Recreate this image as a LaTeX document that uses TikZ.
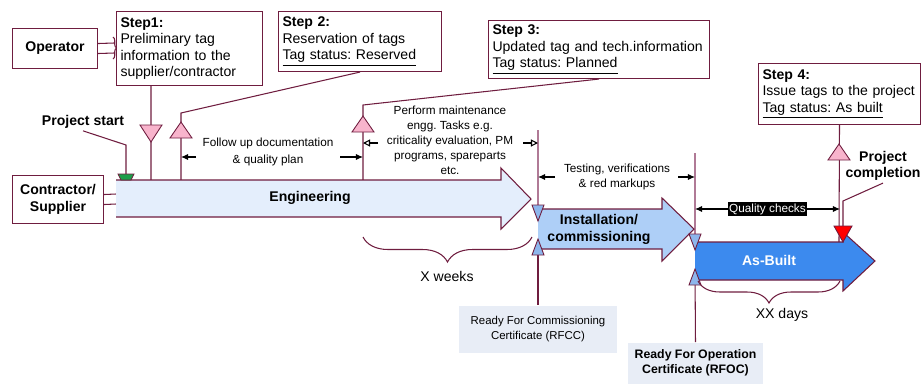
\documentclass[tikz,border=0pt]{standalone}
\usepackage{fontspec}
\setmainfont{Liberation Sans}
\usetikzlibrary{arrows.meta,decorations.pathreplacing}
\frenchspacing

\definecolor{maroon}{HTML}{6F1D3F}
\definecolor{mauve}{HTML}{B07A96}
\definecolor{tagpink}{HTML}{F8B4CC}
\definecolor{engfill}{HTML}{E4EEFC}
\definecolor{instfill}{HTML}{AECFF7}
\definecolor{builtfill}{HTML}{3C8AEE}
\definecolor{certfill}{HTML}{E8EDF6}
\definecolor{triblue}{HTML}{8DB6EC}
\definecolor{startgreen}{HTML}{1E9E4A}

\begin{document}
\begin{tikzpicture}[x=0.02cm, y=-0.02cm, line width=0.6pt,
    stepbox/.style={draw=maroon, fill=white, anchor=north west, align=left, inner xsep=0.08cm, inner ysep=0pt, font=\fontsize{8}{9.4}\selectfont},
    actorbox/.style={draw=maroon, fill=white, anchor=north west, align=center, inner sep=0pt, font=\fontsize{8}{9.4}\selectfont\bfseries},
    certbox/.style={fill=certfill, anchor=north, align=center, inner sep=0pt},
    phaselbl/.style={align=center, font=\fontsize{8}{9.6}\selectfont\bfseries},
    eventlbl/.style={align=center, inner sep=1pt, font=\fontsize{8}{9.4}\selectfont\bfseries},
    tasklbl/.style={align=center, inner sep=1pt, font=\fontsize{6.7}{8.5}\selectfont},
    tagtri/.style={draw=maroon, fill=tagpink, line width=0.5pt},
    certtri/.style={draw=maroon, fill=triblue, line width=0.5pt},
    spanbrace/.style={draw=maroon, decorate, decoration={brace, mirror, amplitude=#1}},
    leftarr/.style={-{Latex[length=4pt,width=3.5pt]}},
    openarr/.style={-{Triangle[open,length=4pt,width=4pt]}}
]
    \useasboundingbox (0,0) rectangle (921,383);

    % Boxes
    \node[actorbox, minimum width=1.7cm, minimum height=0.8cm] (op) at (12,28) {Operator};
    \node[actorbox, minimum width=1.82cm, minimum height=0.96cm] (cs) at (12,175) {Contractor/\\Supplier};

    \node[stepbox, text width=2.76cm, minimum height=1.48cm] (step1) at (116,11)
        {\textbf{Step1:}\\Preliminary tag\\information to the\\supplier/contractor};
    \node[stepbox, text width=3.1cm, minimum height=1.2cm] (step2) at (278,11)
        {\textbf{Step 2:}\\Reservation of tags\\\underline{Tag status: Reserved}};
    \node[stepbox, text width=4.26cm, minimum height=1.16cm] (step3) at (488,20)
        {\textbf{Step 3:}\\Updated tag and tech.information\\\underline{Tag status: Planned}};
    \node[stepbox, text width=3.08cm, minimum height=1.22cm] (step4) at (758,63)
        {\textbf{Step 4:}\\Issue tags to the project\\\underline{Tag status: As built}};

    % Operator -> Step1
    \draw[maroon] ([yshift=0.1cm]op.east) -- (114,43);
    \draw[maroon] ([yshift=-0.1cm]op.east) -- (114,53);
    \draw[maroon, decorate, decoration={brace, amplitude=0.07cm}] (113,37) -- (113,59);

    % Contractor -> Engineering
    \draw[maroon] ([yshift=0.1cm]cs.east) -- (116,194);
    \draw[maroon] ([yshift=-0.1cm]cs.east) -- (116,204);

    % Leaders from steps
    \draw[maroon] ([xshift=0.7cm]step1.south west) -- (151,180);
    \draw[maroon] (step2.south) -- (181,113) -- (181,180);
    \draw[maroon] (step3.south) -- (363,105) -- (363,180);
    \draw[maroon] (step4.south) -- (839,242);

    % Milestones
    \node[eventlbl] (pstart) at (83,122) {Project start};
    \draw[maroon] (pstart.south) -- (126,145) -- (126,174);
    \node[eventlbl] (pcomp) at (883,166) {Project\\completion};
    \draw[maroon] (pcomp.south) -- (843,201) -- (843,227);

    % Certificates
    \node[certbox, minimum width=3.16cm, minimum height=0.94cm, font=\fontsize{6.5}{8}\selectfont] (rfcc) at (538,305)
        {Ready For Commissioning\\Certificate (RFCC)};
    \node[certbox, minimum width=2.7cm, minimum height=0.82cm, font=\fontsize{7}{8.5}\selectfont\bfseries] (rfoc) at (695.5,342)
        {Ready For Operation\\Certificate (RFOC)};

    % Stage lines
    \draw[mauve] (538,130) -- (538,208);
    \draw[maroon] (538,240) -- (rfcc.north);
    \draw[mauve] (695,153) -- (695,236);
    \draw[maroon] (695,270) -- (rfoc.north);

    % Engineering
    \fill[engfill] (116,180) -- (501,180) -- (501,168) -- (531,199) -- (501,229) -- (501,217) -- (116,217) -- cycle;
    \draw[maroon] (116,180) -- (501,180) -- (501,168) -- (531,199) -- (501,229) -- (501,217) -- (116,217);
    \node[phaselbl] (eng) at (310,198) {Engineering};

    % Installation/commissioning
    \fill[instfill] (538,209) -- (662,209) -- (662,198) -- (694,229) -- (662,261) -- (662,249) -- (538,249) -- cycle;
    \draw[maroon] (538,209) -- (662,209) -- (662,198) -- (694,229) -- (662,261) -- (662,249) -- (538,249);
    \node[phaselbl] (inst) at (599,229) {Installation/\\commissioning};

    % As-Built
    \fill[builtfill] (695,242) -- (843,242) -- (843,232) -- (875,261) -- (843,291) -- (843,280) -- (695,280) -- cycle;
    \draw[maroon] (695,242) -- (843,242) -- (843,232) -- (875,261) -- (843,291) -- (843,280) -- (695,280);
    \node[phaselbl, text=white] (built) at (769,260) {As-Built};

    % Tag triangles
    \draw[tagtri] (140,125) -- (162,125) -- (151,142) -- cycle;
    \draw[tagtri] (181,122) -- (192,138) -- (170,138) -- cycle;
    \draw[tagtri] (363,116) -- (374,132) -- (352,132) -- cycle;
    \draw[tagtri] (839,144) -- (850,160) -- (828,160) -- cycle;
    \draw[maroon, fill=red, line width=0.5pt] (834,226) -- (852,226) -- (843,242) -- cycle;
    \draw[maroon, fill=startgreen, line width=0.5pt] (118,174) -- (134,174) -- (131,180) -- (121,180) -- cycle;

    % Certificate triangles
    \draw[certtri] (532,205) -- (544,205) -- (538,221) -- cycle;
    \draw[certtri] (538,239) -- (544,255) -- (532,255) -- cycle;
    \draw[certtri] (689,234) -- (701,234) -- (695,250) -- cycle;
    \draw[certtri] (695,269) -- (701,285) -- (689,285) -- cycle;

    % Tasks
    \node[tasklbl, font=\fontsize{6.7}{10}\selectfont] (fu) at (268,152) {Follow up documentation\\\& quality plan};
    \draw[leftarr] (196,157) -- (181,157);
    \draw[leftarr] (340,157) -- (363,157);

    \node[tasklbl] (perf) at (450,140) {Perform maintenance\\engg. Tasks e.g.\\criticality evaluation, PM\\programs, spareparts\\etc.};
    \draw[openarr] (378,143) -- (363,143);
    \draw[openarr] (523,143) -- (538,143);

    \node[tasklbl, font=\fontsize{6.7}{8.8}\selectfont] (test) at (617,177) {Testing, verifications\\\& red markups};
    \draw[leftarr] (555,177) -- (538,177);
    \draw[leftarr] (678,177) -- (695,177);

    \draw[{Latex[length=4pt,width=3.5pt]}-{Latex[length=4pt,width=3.5pt]}] (695,209) -- (840,209)
        node[midway, fill=black, text=white, inner sep=0.8pt, font=\fontsize{6.7}{8}\selectfont] (qc) {Quality checks};

    % Durations
    \draw[spanbrace=0.5cm] (363,237) -- (532,237);
    \node[font=\fontsize{8}{9.4}\selectfont] (xw) at (447,276) {X weeks};
    \draw[spanbrace=0.44cm] (698,281) -- (840,281);
    \node[font=\fontsize{8}{9.4}\selectfont] (xd) at (782,315) {XX days};
\end{tikzpicture}
\end{document}
